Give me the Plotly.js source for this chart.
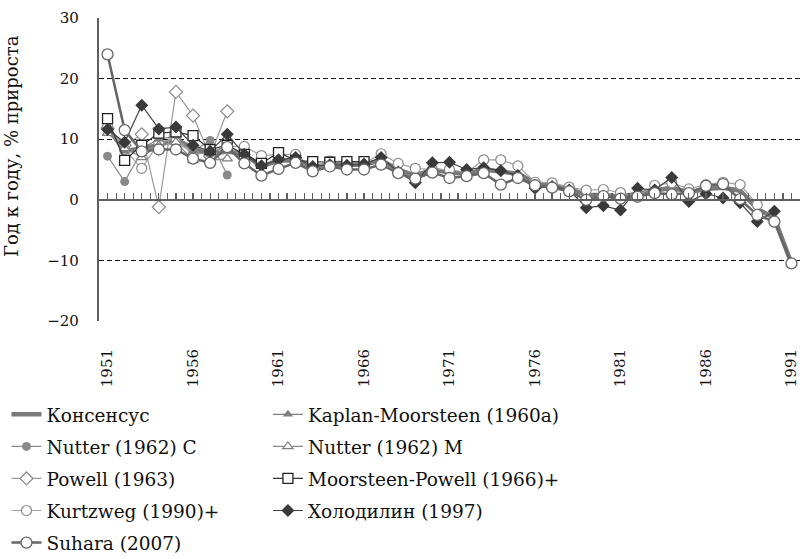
<!DOCTYPE html>
<html>
<head>
<meta charset="utf-8">
<script src="https://cdn.plot.ly/plotly-3.0.1.min.js"></script>
<style>
  body { margin: 0; background: #fff; }
  #chart { width: 806px; height: 559px; }
</style>
</head>
<body>
<div id="chart"></div>
<script>
// years 1951..1991
var years = [];
for (var y = 1951; y <= 1991; y++) years.push(y);

var consensus = [12, 8, 8.5, 9, 10, 8.5, 7.5, 8, 7.5, 5.5, 6.5, 6.5, 5.5, 5.8, 5.8, 5.8, 6.5, 5, 4, 5,
                 4.5, 4.3, 5, 4.7, 4.3, 2.8, 2.3, 1.8, 0.8, 0.8, 0.5, 1, 1.5, 2, 1.2, 1.8, 2, 1.5, -1.5, -3, -10.5];

var yearsEarly = [1951, 1952, 1953, 1954, 1955, 1956, 1957, 1958];
var kaplanMoorsteen = [11.5, 8, 8.5, 10, 10.5, 8, 7.5, 9];
var nutterC = [7.2, 3.0, 8.0, 9.0, 9.3, 8.0, 9.8, 4.1];
var nutterM = [11, 8.5, 7, 9, 9.5, 6.5, 6.5, 6.8];
var powell = [11.8, 9, 10.8, -1.2, 17.8, 13.9, 7.2, 14.6];

var yearsMP = [1951, 1952, 1953, 1954, 1955, 1956, 1957, 1958, 1959, 1960, 1961, 1962, 1963, 1964, 1965, 1966];
var moorsteenPowell = [13.4, 6.5, 9, 11, 11.2, 10.6, 8.3, 9.0, 7.5, 6, 7.8, 6.5, 6.3, 6.2, 6.3, 6.3];

var yearsKurtzweg = years.slice(0, 39); // 1951..1989
var kurtzweg = [12.1, 8.3, 5.2, 9.4, 10.2, 7.4, 7.9, 8.8, 8.8, 7.3, 7.5, 7.5, 5.2, 6.4, 6.3, 6.0, 7.6, 6.0, 5.2, 5.0,
                5.0, 4.5, 6.6, 6.6, 5.6, 2.9, 2.8, 2.1, 1.6, 1.7, 1.2, 0.6, 2.4, 2.8, 1.8, 2.5, 2.9, 2.5, -0.8];

var yearsHolodilin = years.slice(0, 40); // 1951..1990
var holodilin = [11.6, 9.5, 15.6, 11.7, 12.0, 9, 8, 10.8, 7.5, 5.6, 6.6, 7, 5.5, 5.8, 5.7, 5.9, 7, 4.6, 2.8, 6.1,
                 6.2, 5, 5.3, 4.8, 4.0, 1.9, 2.2, 1.6, -1.3, -1, -1.7, 1.9, 1.6, 3.7, -0.3, 1.0, 0.3, -0.5, -3.6, -1.9];

var suhara = [24, 11.5, 8.0, 8.3, 8.3, 6.8, 6.1, 8.7, 6.0, 4.0, 5.1, 6.1, 4.7, 5.5, 5.0, 5.0, 5.8, 4.4, 3.5, 4.5,
              3.6, 3.9, 4.4, 2.5, 3.6, 2.4, 2.0, 1.4, 0.0, 0.6, 0.2, 0.5, 1.1, 0.9, 1.1, 2.3, 2.6, 0.1, -2.5, -3.6, -10.5];

var serif = 'DejaVu Serif';

var traces = [
  {name: 'Консенсус', x: years, y: consensus, mode: 'lines',
   line: {color: '#7a7a7a', width: 4.5}, legend: 'legend', legendgroup: 'a'},
  {name: 'Nutter (1962) C', x: yearsEarly, y: nutterC, mode: 'lines+markers',
   line: {color: '#8a8a8a', width: 1.2},
   marker: {symbol: 'circle', size: 9, color: '#8a8a8a'}, legend: 'legend', legendgroup: 'b'},
  {name: 'Powell (1963)', x: yearsEarly, y: powell, mode: 'lines+markers',
   line: {color: '#9a9a9a', width: 1.2},
   marker: {symbol: 'diamond', size: 10, color: '#ffffff', line: {color: '#8a8a8a', width: 1.2}},
   legend: 'legend', legendgroup: 'c'},
  {name: 'Kurtzweg (1990)+', x: yearsKurtzweg, y: kurtzweg, mode: 'lines+markers',
   line: {color: '#a0a0a0', width: 1.2},
   marker: {symbol: 'circle', size: 10, color: '#ffffff', line: {color: '#8a8a8a', width: 1.2}},
   legend: 'legend', legendgroup: 'd'},
  {name: 'Kaplan-Moorsteen (1960a)', x: yearsEarly, y: kaplanMoorsteen, mode: 'lines+markers',
   line: {color: '#7f7f7f', width: 1.2},
   marker: {symbol: 'triangle-up', size: 9, color: '#7f7f7f'}, legend: 'legend2', legendgroup: 'f'},
  {name: 'Nutter (1962) M', x: yearsEarly, y: nutterM, mode: 'lines+markers',
   line: {color: '#8a8a8a', width: 1.2},
   marker: {symbol: 'triangle-up', size: 9, color: '#ffffff', line: {color: '#7f7f7f', width: 1.2}},
   legend: 'legend2', legendgroup: 'g'},
  {name: 'Moorsteen-Powell (1966)+', x: yearsMP, y: moorsteenPowell, mode: 'lines+markers',
   line: {color: '#333333', width: 1.2},
   marker: {symbol: 'square', size: 10, color: '#ffffff', line: {color: '#222222', width: 1.3}},
   legend: 'legend2', legendgroup: 'h'},
  {name: 'Холодилин (1997)', x: yearsHolodilin, y: holodilin, mode: 'lines+markers',
   line: {color: '#444444', width: 1.2},
   marker: {symbol: 'diamond', size: 10, color: '#3a3a3a'}, legend: 'legend2', legendgroup: 'i'},
  {name: 'Suhara (2007)', x: years, y: suhara, mode: 'lines+markers',
   line: {color: '#666666', width: 2.5},
   marker: {symbol: 'circle', size: 11, color: '#ffffff', line: {color: '#666666', width: 1.3}},
   legend: 'legend', legendgroup: 'e'},
  // axis through zero with half-year ticks
  {x: [1950.5, 1991.5], y: [0, 0], xaxis: 'x2', mode: 'lines', line: {color: 'rgba(0,0,0,0)'},
   showlegend: false, hoverinfo: 'skip'}
];

var legendBase = {
  orientation: 'v', yanchor: 'top', xanchor: 'left', y: -0.247,
  font: {family: serif, size: 18.5, color: '#111'}, tracegroupgap: 5,
  bgcolor: 'rgba(0,0,0,0)', traceorder: 'grouped'
};

var layout = {
  width: 806, height: 559,
  margin: {l: 99, r: 6, t: 18, b: 238, autoexpand: false},
  paper_bgcolor: '#fff', plot_bgcolor: '#fff',
  font: {family: serif, size: 16, color: '#111'},
  showlegend: true,
  hovermode: false,
  xaxis: {
    range: [1950.5, 1991.5], tickvals: [1951, 1956, 1961, 1966, 1971, 1976, 1981, 1986, 1991],
    tickangle: -90, showgrid: false, zeroline: false, showline: false, ticks: '',
    ticklabelstandoff: 24, tickfont: {family: serif, size: 15}
  },
  xaxis2: {
    range: [1950.5, 1991.5], overlaying: 'x', anchor: 'free', position: 0.4,
    showline: true, linecolor: '#5f5f5f', linewidth: 2.2,
    ticks: 'inside', tick0: 1950.5, dtick: 0.5, ticklen: 6, tickwidth: 1.2, tickcolor: '#5f5f5f',
    showticklabels: false, showgrid: false, zeroline: false
  },
  yaxis: {
    range: [-20, 30], dtick: 10, showgrid: true, gridcolor: '#111', griddash: '5px,3px', gridwidth: 1,
    zeroline: false, showline: true, linecolor: '#5f5f5f', linewidth: 2.2,
    ticks: '', ticklabelstandoff: 15, tickfont: {family: serif, size: 15}
  },
  annotations: [{
    text: 'Год к году, % прироста', textangle: -90, showarrow: false,
    xref: 'paper', yref: 'paper', x: -0.124, y: 0.578, xanchor: 'center', yanchor: 'middle',
    font: {family: serif, size: 18, color: '#111'}
  }],
  legend: Object.assign({}, legendBase, {x: -0.132}),
  legend2: Object.assign({}, legendBase, {x: 0.241})
};

Plotly.newPlot('chart', traces, layout, {displayModeBar: false, staticPlot: true});
</script>
</body>
</html>
